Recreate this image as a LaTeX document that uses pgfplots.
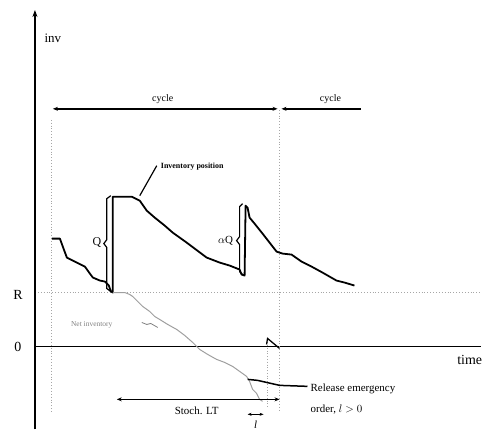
\documentclass[border=0pt]{standalone}
\usepackage{pgfplots}
\pgfplotsset{compat=1.18}
\usepackage{fontspec}
\setmainfont{Liberation Serif}
\usetikzlibrary{arrows.meta}
\begin{document}
\begin{tikzpicture}
\begin{axis}[
  scale only axis, width=482bp, height=430bp,
  xmin=0, xmax=482, ymin=0, ymax=430, y dir=reverse,
  hide axis, clip=false,
]
% invisible frame
\path (axis cs:0,0) rectangle (axis cs:482,430);
% axes
\draw[line width=1.6pt, -{Stealth[length=7pt,width=5pt]}] (35,430) -- (35,10);
\draw[line width=1.6pt] (35,347) -- (482,347);
% R dotted
\draw[gray!70, dotted, line width=0.9pt] (38,293) -- (482,293);
% vertical dotted
\draw[gray!70, dotted, line width=0.9pt] (52,120) -- (52,412);
\draw[gray!70, dotted, line width=0.9pt] (280,110) -- (280,412);
\draw[gray!70, dotted, line width=0.8pt] (268,340) -- (268,408);
% labels
\node[font=\fontsize{13}{15}\selectfont] at (53,38) {inv};
\node[font=\fontsize{14}{16}\selectfont] at (18,295) {R};
\node[font=\fontsize{14}{16}\selectfont] at (18,348) {0};
\node[font=\fontsize{14}{16}\selectfont, anchor=east, inner sep=0pt] at (483,361) {time};
% cycle arrows
\draw[line width=1.4pt, {Stealth[length=5pt,width=4pt]}-{Stealth[length=5pt,width=4pt]}] (53,109) -- (278,109);
\node[font=\fontsize{10}{12}\selectfont] at (163,99) {cycle};
\draw[line width=1.4pt, {Stealth[length=5pt,width=4pt]}-] (282,109) -- (362,109);
\node[font=\fontsize{10}{12}\selectfont] at (331,99) {cycle};
% inventory position
\addplot[black, line width=1.8pt, line join=round] coordinates {
(52,239) (60,239) (64,250) (67,258) (75,262) (85,267) (90,274) (93,278) (100,281) (105,282) (109,286) (111,292) (113,293) (113,197) (132,197) (140,201) (147,211) (155,218) (165,226) (173,233) (180,238) (187,243) (195,249) (207,258) (220,263) (230,266) (240,270) (242,275) (245,276) (246,206) (248,208) (250,218) (255,224) (263,234) (270,243) (277,252) (283,254) (292,255) (302,262) (312,267) (323,273) (330,277) (337,281) (345,283) (355,286)
};
% net inventory
\addplot[gray!75, line width=1pt] coordinates {
(113,293) (125,293) (130,295) (133,297) (138,302) (143,307) (150,312) (155,317) (160,320) (168,325) (177,330) (185,336) (193,343) (200,350) (208,355) (217,360) (225,363) (233,367) (240,372) (247,377) (250,382) (253,390) (257,394) (260,400) (263,402)
};
% braces
\draw[line width=1.2pt] (111,196) -- (107,199) -- (107,240) -- (104,244) -- (107,248) -- (107,289) -- (111,292);
\node[font=\fontsize{12}{14}\selectfont] at (97,243) {Q};
\draw[line width=1.2pt] (243,204) -- (240,207) -- (240,237) -- (237,241) -- (240,245) -- (240,272) -- (243,275);
\node[font=\fontsize{11}{13}\selectfont] at (226,241) {$\alpha$Q};
% inventory position label
\draw[line width=1.2pt] (157,166) -- (140,196);
\node[font=\fontsize{8}{10}\selectfont\bfseries, anchor=west, inner sep=0pt] at (161,167) {Inventory position};
% net inventory label
\node[font=\fontsize{7.5}{9}\selectfont, text=gray, anchor=west, inner sep=0pt] at (71,325) {Net inventory};
\draw[gray, line width=0.8pt] (142,323) -- (147,325) -- (151,324) -- (158,328);
% emergency
\draw[line width=1.3pt] (267,345) -- (268,339) -- (280,349);
\draw[line width=1.5pt] (248,380) -- (258,381) -- (280,386) -- (308,387);
\node[font=\fontsize{11}{13}\selectfont, anchor=west, inner sep=0pt] at (311,390) {Release emergency};
\node[font=\fontsize{11}{13}\selectfont, anchor=west, inner sep=0pt] at (311,410) {order, $l>0$};
% stoch LT
\draw[line width=1.4pt, {Stealth[length=5pt,width=4pt]}-{Stealth[length=5pt,width=4pt]}] (117,400) -- (280,400);
\node[font=\fontsize{11}{13}\selectfont] at (197,411) {Stoch. LT};
\draw[line width=1.2pt, {Stealth[length=4pt,width=3pt]}-{Stealth[length=4pt,width=3pt]}] (248,415) -- (264,415);
\node[font=\fontsize{11}{13}\selectfont\itshape] at (256,425) {l};
\end{axis}
\end{tikzpicture}
\end{document}
